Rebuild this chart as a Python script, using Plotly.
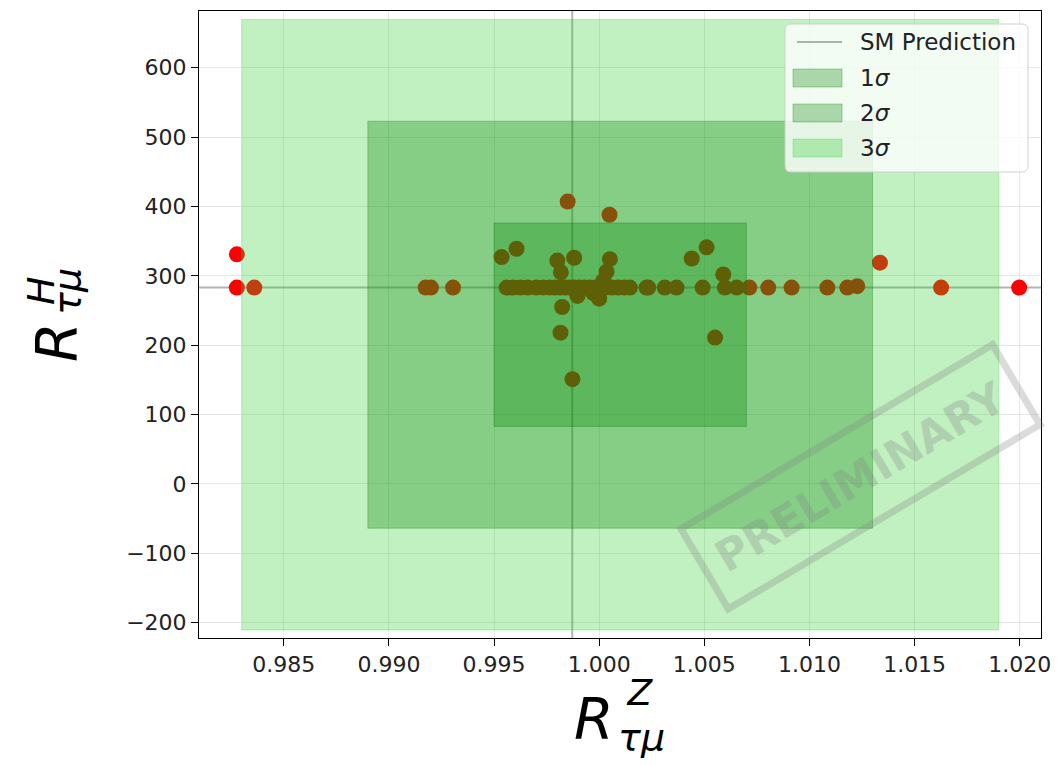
import plotly.graph_objects as go

# ---- data -------------------------------------------------------------
# Scan points (R^Z_tau-mu, R^H_tau-mu)
rz_points = [
    0.98277, 0.98277, 0.98360, 0.99175, 0.99200, 0.99305,
    0.99560, 0.99590, 0.99625, 0.99660, 0.99700, 0.99735, 0.99765, 0.99790,
    0.99815, 0.99840, 0.99860, 0.99880, 0.99905, 0.99930, 0.99955, 0.99980,
    1.00005, 1.00030, 1.00060, 1.00090, 1.00120, 1.00146,
    0.99850, 1.00049, 0.99536, 0.99607, 0.99801, 0.99881, 1.00051, 0.99818,
    1.00035, 0.99897, 1.00000, 0.99824, 0.99816, 0.99873, 0.99972, 1.00020,
    1.00225, 1.00233, 1.00312, 1.00368, 1.00440, 1.00511, 1.00492, 1.00590,
    1.00598, 1.00654, 1.00551, 1.00714, 1.00804, 1.00915, 1.01085, 1.01180,
    1.01227, 1.01335, 1.01626, 1.01997,
]
rh_points = [
    331, 283, 283, 283, 283, 283,
    283, 283, 283, 283, 283, 283, 283, 283,
    283, 283, 283, 283, 283, 283, 283, 283,
    283, 283, 283, 283, 283, 283,
    407, 388, 327, 339, 322, 326, 324, 305,
    306, 271, 267, 255, 218, 151, 275, 293,
    283, 283, 283, 283, 325, 341, 283, 302,
    283, 283, 211, 283, 283, 283, 283, 283,
    285, 319, 283, 283,
]

# Standard Model prediction
sm_rz = 0.99872
sm_rh = 283

# Measurement central value and 1-sigma uncertainties
meas_rz = 1.001
meas_rh = 229.5
sigma_rz = 0.006
sigma_rh = 146.7

sigma_levels = [1, 2, 3]
sigma_names = ["1<i>σ</i>", "2<i>σ</i>", "3<i>σ</i>"]

# axis ranges and ticks
x_range = [0.98097, 1.02101]
y_range = [-222.2, 681.8]
x_ticks = [0.985, 0.990, 0.995, 1.000, 1.005, 1.010, 1.015, 1.020]
y_ticks = [-200, -100, 0, 100, 200, 300, 400, 500, 600]

# ---- styling ----------------------------------------------------------
W, H = 1061, 765
ML, MR, MT, MB = 199, 20, 11, 127
PW, PH = W - ML - MR, H - MT - MB

band_colors = {
    1: "rgba(0,128,0,0.3)",
    2: "rgba(0,128,0,0.3)",
    3: "rgba(50,205,50,0.3)",
}
sm_color = "rgba(128,128,128,0.6)"
font_main = "DejaVu Sans"
text_color = "#222222"


def paper(px, py):
    """Pixel position on the page -> paper coordinates."""
    return (px - ML) / PW, (H - MB - py) / PH


fig = go.Figure()

# SM prediction lines
fig.add_trace(go.Scatter(
    x=x_range, y=[sm_rh, sm_rh], mode="lines",
    line=dict(color=sm_color, width=2), hoverinfo="skip",
))
fig.add_trace(go.Scatter(
    x=[sm_rz, sm_rz], y=y_range, mode="lines",
    line=dict(color=sm_color, width=2), hoverinfo="skip",
))

# scan points
fig.add_trace(go.Scatter(
    x=rz_points, y=rh_points, mode="markers",
    marker=dict(color="#ff0000", size=16, line=dict(width=0)),
))

# sigma regions, widest first so the narrower ones lie on top
for lvl in sorted(sigma_levels, reverse=True):
    x0, x1 = meas_rz - lvl * sigma_rz, meas_rz + lvl * sigma_rz
    y0, y1 = meas_rh - lvl * sigma_rh, meas_rh + lvl * sigma_rh
    fig.add_trace(go.Scatter(
        x=[x0, x1, x1, x0, x0], y=[y0, y0, y1, y1, y0],
        mode="lines", fill="toself",
        fillcolor=band_colors[lvl],
        line=dict(color=band_colors[lvl], width=1),
        hoverinfo="skip",
    ))

axis_common = dict(
    showline=True, linecolor="black", linewidth=1, mirror=True,
    ticks="outside", ticklen=7, tickwidth=1, tickcolor="black",
    showgrid=True, gridcolor="rgba(176,176,176,0.3)", gridwidth=1,
    zeroline=False,
    tickfont=dict(family=font_main, size=22, color=text_color),
)

fig.update_xaxes(range=x_range, tickvals=x_ticks,
                 ticktext=[f"{v:.3f}" for v in x_ticks], **axis_common)
fig.update_yaxes(range=y_range, tickvals=y_ticks,
                 ticktext=[str(v).replace("-", "\u2212") for v in y_ticks],
                 **axis_common)

fig.update_layout(
    width=W, height=H,
    margin=dict(l=ML, r=MR, t=MT, b=MB),
    paper_bgcolor="white", plot_bgcolor="white",
    showlegend=False,
)

# ---- legend box -------------------------------------------------------
lx0, ly0 = paper(785, 172)
lx1, ly1 = paper(1028, 24)
r = 6
rx, ry = r / PW, r / PH
path = (f"M{lx0+rx},{ly0} L{lx1-rx},{ly0} Q{lx1},{ly0} {lx1},{ly0+ry} "
        f"L{lx1},{ly1-ry} Q{lx1},{ly1} {lx1-rx},{ly1} "
        f"L{lx0+rx},{ly1} Q{lx0},{ly1} {lx0},{ly1-ry} "
        f"L{lx0},{ly0+ry} Q{lx0},{ly0} {lx0+rx},{ly0} Z")
fig.add_shape(type="path", path=path, xref="paper", yref="paper",
              fillcolor="rgba(255,255,255,0.8)",
              line=dict(color="rgba(204,204,204,0.9)", width=1),
              layer="above")

row_y = [42, 78, 113, 148]
text_x = 858
legend_font = dict(family=font_main, size=23, color=text_color)

# SM Prediction entry
sx0, sy = paper(797, row_y[0])
sx1, _ = paper(842, row_y[0])
fig.add_shape(type="line", x0=sx0, x1=sx1, y0=sy, y1=sy,
              xref="paper", yref="paper", layer="above",
              line=dict(color=sm_color, width=2))
tx, ty = paper(text_x, row_y[0])
fig.add_annotation(text="SM Prediction", x=tx, y=ty, xref="paper",
                   yref="paper", showarrow=False, xanchor="left",
                   yanchor="middle", font=legend_font)

# sigma entries
for lvl, name, ry_px in zip(sigma_levels, sigma_names, row_y[1:]):
    bx0, by0 = paper(793, ry_px + 9)
    bx1, by1 = paper(842, ry_px - 9)
    fig.add_shape(type="rect", x0=bx0, x1=bx1, y0=by0, y1=by1,
                  xref="paper", yref="paper", layer="above",
                  fillcolor=band_colors[lvl],
                  line=dict(color=band_colors[lvl], width=1))
    tx, ty = paper(text_x, ry_px)
    fig.add_annotation(text=name, x=tx, y=ty, xref="paper", yref="paper",
                       showarrow=False, xanchor="left", yanchor="middle",
                       font=legend_font)


# ---- axis titles, built from pieces so the scripts stack ---------------
def label_piece(text, px, py, size, angle=0, box=None):
    ax, ay = paper(px, py)
    extra = {}
    if box is not None:
        extra = dict(width=box[0], height=box[1])
    fig.add_annotation(
        text=text, x=ax, y=ay, xref="paper", yref="paper",
        showarrow=False, xanchor="center", yanchor="middle",
        textangle=angle,
        font=dict(family=font_main, size=size, color="black"),
        **extra,
    )

label_piece("<i>R</i>", 594, 719, 57)
label_piece("<i>Z</i>", 640, 692, 36, box=(28, 26))
label_piece("<i>τμ</i>", 641, 737, 38)

label_piece("<i>R</i>", 57, 342, 57, angle=-90)
label_piece("<i>H</i>", 41, 291, 38, angle=-90)
label_piece("<i>τμ</i>", 67, 292, 38, angle=-90)

# ---- watermark --------------------------------------------------------
wx, wy = paper(860, 477)
fig.add_annotation(
    text="<b>PRELIMINARY</b>", x=wx, y=wy, xref="paper", yref="paper",
    showarrow=False, xanchor="center", yanchor="middle",
    textangle=-30.6,
    font=dict(family=font_main, size=43, color="gray"),
    bordercolor="gray", borderwidth=7, borderpad=10,
    width=335, height=66, opacity=0.28,
)

fig.write_html("out.html")
